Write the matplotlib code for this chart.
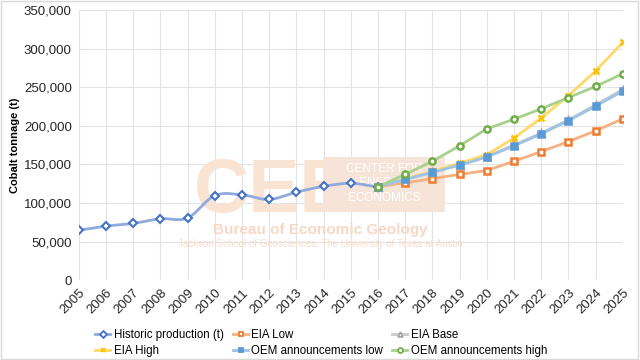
"""
Cobalt tonnage: historic production and projections to 2025.
"""
import numpy as np
import matplotlib
matplotlib.use('Agg')
import matplotlib.pyplot as plt
from matplotlib.patches import Rectangle
from matplotlib.lines import Line2D

plt.rcParams['font.family'] = ['Liberation Sans', 'DejaVu Sans']

# ============================================================================
# Data
# ============================================================================

years_hist = [2005, 2006, 2007, 2008, 2009, 2010, 2011, 2012, 2013, 2014, 2015, 2016]
historic = [65000, 70000, 73500, 79500, 80500, 109500, 110500, 104500, 114000, 121500, 125500, 121000]

years_proj = [2016, 2017, 2018, 2019, 2020, 2021, 2022, 2023, 2024, 2025]
eia_low = [121000, 126000, 131500, 137000, 142000, 154000, 166500, 179500, 193500, 209000]
eia_base = [121000, 131000, 140000, 149500, 160000, 175000, 190500, 207500, 227000, 247000]
eia_high = [121000, 131000, 140800, 151500, 162500, 184000, 210000, 239000, 271000, 308000]
oem_low = [121000, 130500, 139500, 149000, 159500, 174000, 189500, 206500, 225500, 245000]
oem_high = [121000, 137000, 154000, 174000, 196000, 208500, 222000, 236500, 251000, 267500]

all_years = list(range(2005, 2026))


def smooth(xs, ys, n=20):
    # Catmull-Rom style smoothing like Excel's "smoothed line"
    xs = np.asarray(xs, float)
    ys = np.asarray(ys, float)
    px = np.concatenate([[2 * xs[0] - xs[1]], xs, [2 * xs[-1] - xs[-2]]])
    py = np.concatenate([[ys[0]], ys, [ys[-1]]])
    outx, outy = [], []
    t = np.linspace(0, 1, n)
    for i in range(1, len(px) - 2):
        p0x, p1x, p2x, p3x = px[i - 1], px[i], px[i + 1], px[i + 2]
        p0y, p1y, p2y, p3y = py[i - 1], py[i], py[i + 1], py[i + 2]
        c1x, c1y = p1x + (p2x - p0x) / 6, p1y + (p2y - p0y) / 6
        c2x, c2y = p2x - (p3x - p1x) / 6, p2y - (p3y - p1y) / 6
        bx = (1 - t) ** 3 * p1x + 3 * (1 - t) ** 2 * t * c1x + 3 * (1 - t) * t ** 2 * c2x + t ** 3 * p2x
        by = (1 - t) ** 3 * p1y + 3 * (1 - t) ** 2 * t * c1y + 3 * (1 - t) * t ** 2 * c2y + t ** 3 * p2y
        outx.extend(bx)
        outy.extend(by)
    return outx, outy


# ============================================================================
# Plotting
# ============================================================================

fig = plt.figure(figsize=(6.4, 3.6), dpi=100)
fig.patches.append(Rectangle((0.002, 0.003), 0.995, 0.994, transform=fig.transFigure,
                             fill=False, edgecolor='#D9D9D9', linewidth=1))
ax = fig.add_axes([0.123, 0.222, 0.850, 0.750])

# watermark (drawn in the axes, under the lines)
ft = fig.transFigure
narrow = ['Liberation Sans Narrow', 'Liberation Sans']
ax.text(0.303, 0.411, 'CEE', transform=ft, fontsize=55, fontweight='bold',
        family=narrow, color='#F9E3D3', ha='left', va='baseline', zorder=1)
ax.add_patch(Rectangle((0.505, 0.411), 0.19, 0.153, transform=ft,
                       facecolor='#F6E4D9', edgecolor='none', zorder=1))
ax.text(0.60, 0.548, 'CENTER FOR\nENERGY\nECONOMICS', transform=ft, fontsize=8.5,
        color='white', ha='center', va='top', linespacing=1.3, zorder=1.5)
ax.text(0.50, 0.361, 'Bureau of Economic Geology', transform=ft, fontsize=11,
        fontweight='bold', family=narrow, color='#F6D8C4', ha='center',
        va='center', zorder=1)
ax.text(0.50, 0.322, 'Jackson School of Geosciences, The University of Texas at Austin',
        transform=ft, fontsize=7, family=narrow, color='#F8DDCB', ha='center',
        va='center', zorder=1)

sx, sy = smooth(years_hist, historic)
ax.plot(sx, sy, color='#8FAADC', lw=2, zorder=3)
ax.plot(years_hist, historic, ls='none', marker='D', ms=4, mfc='white',
        mec='#4472C4', mew=1.5, zorder=4)

series = [
    (eia_low, '#F4B183', '#ED7D31', 's', 'white', 'EIA Low'),
    (eia_base, '#C9C9C9', '#A5A5A5', '^', 'white', 'EIA Base'),
    (eia_high, '#FFD966', '#FFC000', 'x', 'none', 'EIA High'),
    (oem_low, '#9DC3E6', '#5B9BD5', 's', '#5B9BD5', 'OEM announcements low'),
    (oem_high, '#A9D18E', '#70AD47', 'o', 'white', 'OEM announcements high'),
]
handles = [Line2D([], [], color='#8FAADC', lw=2, marker='D', ms=3.5, mfc='white',
                  mec='#4472C4', mew=1.3, label='Historic production (t)')]
for vals, lc, mc, mk, mf, lab in series:
    ax.plot(years_proj, vals, color=lc, lw=2, zorder=3)
    ax.plot(years_proj, vals, ls='none', marker=mk, ms=4.5, mfc=mf, mec=mc,
            mew=1.8, zorder=4)
    handles.append(Line2D([], [], color=lc, lw=2, marker=mk, ms=3.5, mfc=mf,
                          mec=mc, mew=1.3, label=lab))

ax.set_xlim(2005, 2025)
ax.set_ylim(0, 350000)
ax.set_xticks(all_years)
ax.set_xticklabels([str(y) for y in all_years], rotation=45, ha='right',
                   rotation_mode='anchor', fontsize=9.5, color='#262626')
ax.set_yticks(range(0, 350001, 50000))
ax.set_yticklabels(['{:,}'.format(v) for v in range(0, 350001, 50000)],
                   fontsize=9.5, color='#262626')
ax.tick_params(length=0, pad=5)
ax.grid(True, color='#E3E3E3', lw=0.8)
ax.set_axisbelow(True)
for s in ax.spines.values():
    s.set_visible(False)
ax.set_ylabel('Cobalt tonnage (t)', fontsize=8, fontweight='bold', labelpad=3)

# legend order: row-wise 3 columns
order = [0, 3, 1, 4, 2, 5]
fig.legend([handles[i] for i in order], [handles[i].get_label() for i in order],
           ncol=3, loc='lower left', bbox_to_anchor=(0.133, -0.02), frameon=False,
           fontsize=8.3, handlelength=1.3, handletextpad=0.3, columnspacing=0.8,
           labelspacing=0.35)

plt.savefig('out.png', dpi=100)
